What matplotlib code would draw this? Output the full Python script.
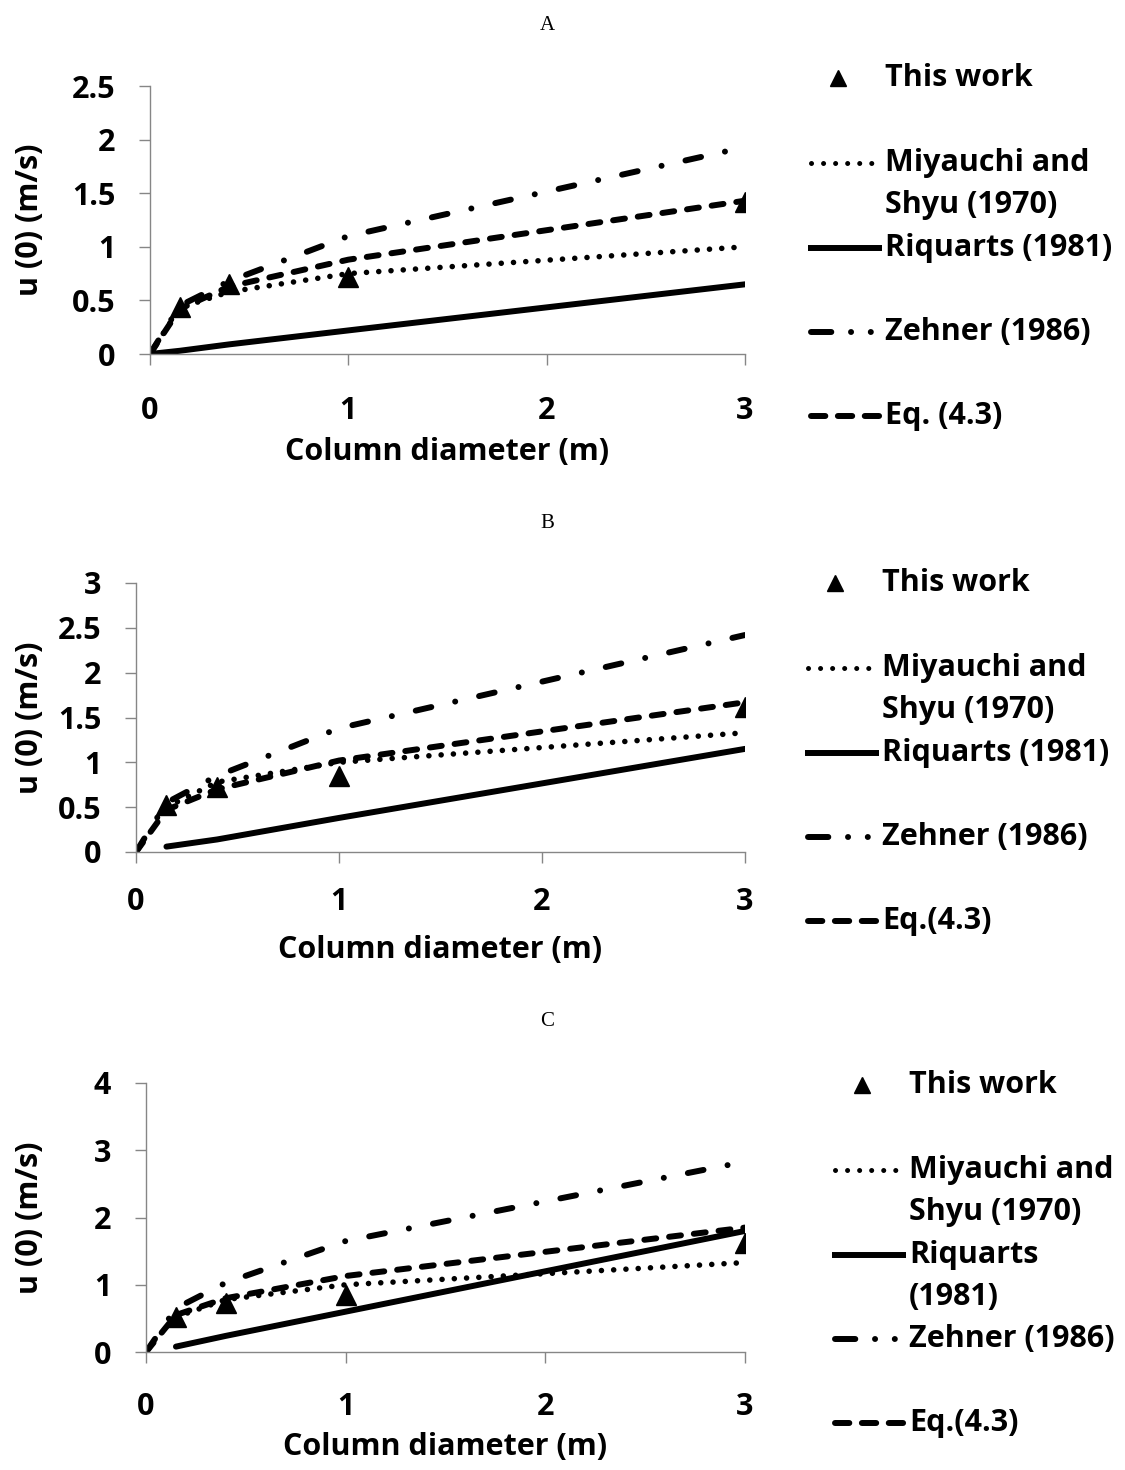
import numpy as np
import matplotlib.pyplot as plt
from matplotlib.lines import Line2D

plt.rcParams['font.family'] = ['Open Sans', 'DejaVu Sans']
plt.rcParams['font.weight'] = 'bold'

W, H = 1125, 1470
FS = 22

# x values (column diameter, m)
diam = [0.15, 0.4, 1, 3]
diam0 = [0, 0.15, 0.4, 1, 3]

# Panel A
a_this = [0.44, 0.65, 0.72, 1.42]
a_miy = [0, 0.43, 0.58, 0.75, 1.0]
a_riq = [0, 0.03, 0.09, 0.22, 0.65]
a_zeh = [0, 0.45, 0.68, 1.1, 1.93]
a_eq = [0, 0.42, 0.63, 0.88, 1.43]

# Panel B
b_this = [0.52, 0.72, 0.85, 1.62]
b_miy = [0.5, 0.78, 1.0, 1.33]
b_riq = [0.06, 0.14, 0.38, 1.15]
b_zeh = [0, 0.55, 0.85, 1.38, 2.42]
b_eq = [0, 0.47, 0.7, 1.02, 1.67]

# Panel C
c_this = [0.52, 0.73, 0.85, 1.62]
c_miy = [0.52, 0.78, 1.0, 1.33]
c_riq = [0.08, 0.24, 0.6, 1.8]
c_zeh = [0, 0.65, 1.03, 1.65, 2.83]
c_eq = [0, 0.55, 0.8, 1.13, 1.85]

labels_a = ['This work', 'Miyauchi and\nShyu (1970)', 'Riquarts (1981)', 'Zehner (1986)', 'Eq. (4.3)']
labels_b = ['This work', 'Miyauchi and\nShyu (1970)', 'Riquarts (1981)', 'Zehner (1986)', 'Eq.(4.3)']
labels_c = ['This work', 'Miyauchi and\nShyu (1970)', 'Riquarts\n(1981)', 'Zehner (1986)', 'Eq.(4.3)']

lw = 4.3
sty_miy = dict(color='black', lw=4.0, dashes=(0.01, 2.2), dash_capstyle='round')
sty_riq = dict(color='black', lw=lw, solid_capstyle='round')
sty_zeh = dict(color='black', lw=lw, dashes=(2.67, 4.1, 0.01, 4.1), dash_capstyle='round')
sty_eq = dict(color='black', lw=lw, dashes=(2.0, 2.17), dash_capstyle='round')

fig = plt.figure(figsize=(W / 100, H / 100), dpi=100)


def fx(px):
    return px / W


def fy(py):
    return 1 - py / H


def panel(box, ylim, yticks, yfmt, this, miy, riq, zeh, eq, miy_x, riq_x, xlab_py, xpad=17, ylab_px=30):
    left, top, right, bottom = box
    ax = fig.add_axes([fx(left), fy(bottom), fx(right) - fx(left), fy(top) - fy(bottom)])
    ax.plot(diam0, zeh, **sty_zeh)
    ax.plot(diam0, eq, **sty_eq)
    ax.plot(miy_x, miy, **sty_miy)
    ax.plot(riq_x, riq, **sty_riq)
    ax.plot(diam, this, ls='none', marker='^', ms=15, color='black')
    ax.set_xlim(0, 3)
    ax.set_ylim(*ylim)
    ax.set_xticks([0, 1, 2, 3])
    ax.set_yticks(yticks)
    ax.set_yticklabels(yfmt)
    for s in ['top', 'right']:
        ax.spines[s].set_visible(False)
    for s in ['left', 'bottom']:
        ax.spines[s].set_color('#868686')
        ax.spines[s].set_linewidth(1.0)
    ax.tick_params(axis='both', direction='out', length=8, width=1.0,
                   color='#868686', labelsize=FS, pad=17)
    ax.tick_params(axis='x', pad=xpad)
    for t in ax.get_xticklabels() + ax.get_yticklabels():
        t.set_fontweight('bold')
    ax.set_xlabel('Column diameter (m)', fontsize=FS, fontweight='bold')
    ax.set_ylabel('u (0) (m/s)', fontsize=FS, fontweight='bold')
    ax.yaxis.set_label_coords((ylab_px - left) / (right - left), 0.5)
    ax.xaxis.set_label_coords(0.5, -(xlab_py - bottom) / (bottom - top))
    ax.xaxis.label.set_va('center')
    ax.yaxis.label.set_va('center')
    return ax


def legend(top, x0, labels, riq_two_lines=False):
    # handles span x0..x0+72 px, text starts at x0+77
    xs = [fx(x0 + 3), fx(x0 + 72)]
    xt = fx(x0 + 77)
    offs = [0, 85, 127, 170, 254, 338]
    y = [top + o for o in offs]
    fig.add_artist(Line2D([fx(x0 + 30)], [fy(y[0])], transform=fig.transFigure,
                          ls='none', marker='^', ms=12, color='black'))
    fig.text(xt, fy(y[0]), labels[0], fontsize=FS, fontweight='bold', va='center')
    fig.add_artist(Line2D(xs, [fy(y[1])] * 2, transform=fig.transFigure,
                          color='black', lw=3.6, dashes=(0.01, 2.4), dash_capstyle='round'))
    first, second = labels[1].split('\n')
    fig.text(xt, fy(y[1]), first, fontsize=FS, fontweight='bold', va='center')
    fig.text(xt, fy(y[2]), second, fontsize=FS, fontweight='bold', va='center')
    fig.add_artist(Line2D([fx(x0), fx(x0 + 74)], [fy(y[3])] * 2, transform=fig.transFigure,
                          color='black', lw=lw, solid_capstyle='butt'))
    if riq_two_lines:
        r1, r2 = labels[2].split('\n')
        fig.text(xt, fy(y[3]), r1, fontsize=FS, fontweight='bold', va='center')
        fig.text(xt, fy(y[3] + 42), r2, fontsize=FS, fontweight='bold', va='center')
    else:
        fig.text(xt, fy(y[3]), labels[2], fontsize=FS, fontweight='bold', va='center')
    fig.add_artist(Line2D(xs, [fy(y[4])] * 2, transform=fig.transFigure,
                          color='black', lw=lw, dashes=(3.4, 3.3, 0.01, 3.3, 0.01, 10),
                          dash_capstyle='round'))
    fig.text(xt, fy(y[4]), labels[3], fontsize=FS, fontweight='bold', va='center')
    fig.add_artist(Line2D(xs, [fy(y[5])] * 2, transform=fig.transFigure,
                          color='black', lw=lw, dashes=(2.4, 2.1), dash_capstyle='round'))
    fig.text(xt, fy(y[5]), labels[4], fontsize=FS, fontweight='bold', va='center')


def title(py, s):
    fig.text(fx(547), fy(py), s, fontsize=15, family='Liberation Serif',
             fontweight='normal', ha='center', va='center')


# Panel A
panel((150, 86, 745, 354), (0, 2.5),
      [0, 0.5, 1, 1.5, 2, 2.5], ['0', '0.5', '1', '1.5', '2', '2.5'],
      a_this, a_miy, a_riq, a_zeh, a_eq, diam0, diam0, xlab_py=452, xpad=22)
title(25, 'A')
legend(78, 808, labels_a)

# Panel B
panel((136, 583, 745, 852), (0, 3),
      [0, 0.5, 1, 1.5, 2, 2.5, 3], ['0', '0.5', '1', '1.5', '2', '2.5', '3'],
      b_this, b_miy, b_riq, b_zeh, b_eq, diam, diam, xlab_py=950)
title(523, 'B')
legend(583, 805, labels_b)

# Panel C
panel((146, 1083, 745, 1352), (0, 4),
      [0, 1, 2, 3, 4], ['0', '1', '2', '3', '4'],
      c_this, c_miy, c_riq, c_zeh, c_eq, diam, diam, xlab_py=1447, xpad=21)
title(1022, 'C')
legend(1085, 832, labels_c, riq_two_lines=True)

fig.savefig('out.png', dpi=100)
